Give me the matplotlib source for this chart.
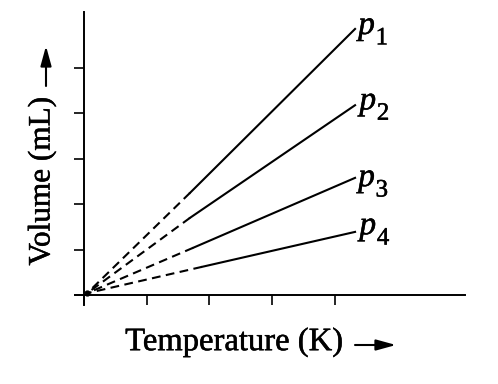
import matplotlib
matplotlib.use("Agg")
import matplotlib.pyplot as plt
import matplotlib.patheffects as pe

# data (arbitrary units: x ticks 0..4, y ticks 0..5)
label_p = ["p", "p", "p", "p"]
label_idx = ["1", "2", "3", "4"]
t_origin = 0.05
v_origin = 0.04
t_solid_start = [1.69, 1.69, 1.74, 1.88]
v_solid_start = [2.25, 1.70, 1.04, 0.62]
t_end = [4.32, 4.32, 4.32, 4.32]
v_end = [5.86, 4.18, 2.58, 1.39]
label_t = [4.37, 4.39, 4.37, 4.39]
label_v = [5.75, 4.09, 2.40, 1.34]
x_ticks = [0, 1, 2, 3, 4]
y_ticks = [0, 1, 2, 3, 4, 5]

plt.rcParams['font.family'] = ['Liberation Serif', 'DejaVu Serif']
bold = [pe.withStroke(linewidth=0.35, foreground='black')]

fig = plt.figure(figsize=(4.98, 3.84), dpi=100)
ax = fig.add_axes([75/498, (384-305)/384, (465-75)/498, (305-12)/384])
ax.set_xlim(-0.143, 6.072)
ax.set_ylim(-0.22, 6.233)

for s in ['top', 'right']:
    ax.spines[s].set_visible(False)
ax.spines['left'].set_position(('data', 0))
ax.spines['bottom'].set_position(('data', 0))
for s in ['left', 'bottom']:
    ax.spines[s].set_linewidth(1.4)
ax.set_xticks(x_ticks)
ax.set_yticks(y_ticks)
ax.set_xticklabels([])
ax.set_yticklabels([])
ax.tick_params(direction='out', length=7, width=1.2, color='black')

for i in range(4):
    ax.plot([t_solid_start[i], t_origin], [v_solid_start[i], v_origin],
            color='black', lw=1.5, linestyle=(0, (4.2, 2.6)),
            solid_capstyle='butt', dash_capstyle='butt')
    ax.plot([t_solid_start[i], t_end[i]], [v_solid_start[i], v_end[i]],
            color='black', lw=1.5)
    ax.text(label_t[i], label_v[i], label_p[i], fontsize=24, style='italic',
            ha='left', va='baseline', path_effects=bold)
    ax.annotate(label_idx[i], xy=(label_t[i], label_v[i]), xycoords='data',
                xytext=(12.5, -7.5), textcoords='offset points', fontsize=18,
                ha='left', va='baseline', path_effects=bold)
ax.plot([t_origin], [v_origin], 'o', color='black', ms=3.5)

fig.text(234/498, 1 - 342/384, "Temperature (K)", fontsize=23.5,
         ha='center', va='center', path_effects=bold)
fig.text(42/498, 1 - 181/384, "Volume (mL)", fontsize=22.5,
         ha='center', va='center', rotation=90, path_effects=bold)

arrow_kw = dict(arrowstyle='-|>,head_length=0.8,head_width=0.22',
                mutation_scale=15, lw=1.5, color='black',
                shrinkA=0, shrinkB=0)
fig.add_artist(matplotlib.patches.FancyArrowPatch(
    (355, 384 - 345), (396, 384 - 345), transform=None, **arrow_kw))
fig.add_artist(matplotlib.patches.FancyArrowPatch(
    (46, 384 - 86), (46, 384 - 46), transform=None, **arrow_kw))

fig.savefig("out.png", dpi=100)
